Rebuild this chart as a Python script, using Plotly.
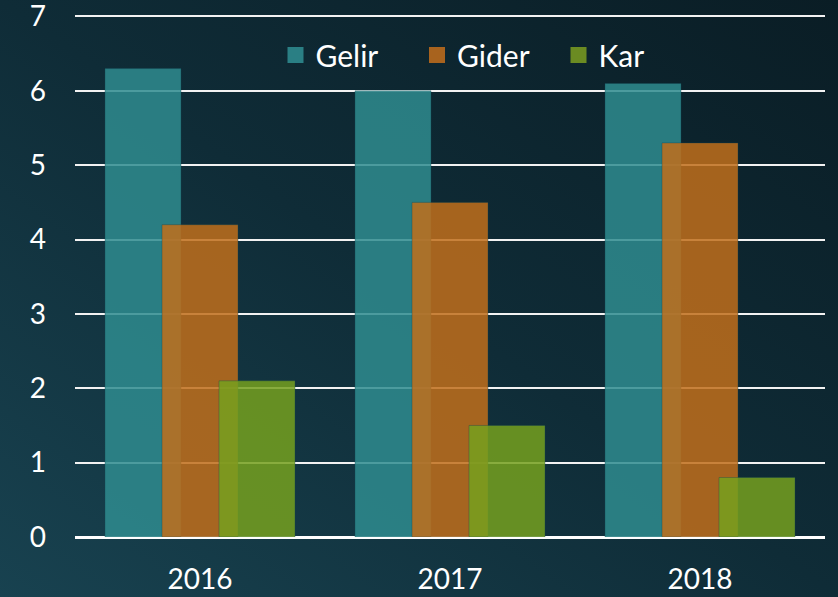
import plotly.graph_objects as go
import base64

years = ["2016", "2017", "2018"]
gelir = [6.3, 6.0, 6.1]
gider = [4.2, 4.5, 5.3]
kar = [2.1, 1.5, 0.8]
series_names = ["Gelir", "Gider", "Kar"]
y_ticks = [0, 1, 2, 3, 4, 5, 6, 7]

colors = ["rgba(47,140,143,0.85)", "rgba(193,111,27,0.85)", "rgba(118,160,30,0.85)"]
solid = ["#2a7f84", "#a8631e", "#6b8b22"]
offsets = [-0.38, -0.152, 0.076]
bar_w = 0.304
xpos = list(range(len(years)))

fig = go.Figure()
for name, vals, col, off in zip(series_names, [gelir, gider, kar], colors, offsets):
    fig.add_trace(go.Bar(
        x=xpos, y=vals, name=name, width=bar_w, offset=off, showlegend=False,
        marker=dict(color=col, line=dict(color="rgba(20,70,80,0.35)", width=1)),
    ))
for name, col in zip(series_names, solid):
    fig.add_trace(go.Scatter(
        x=[None], y=[None], mode="markers", name=name,
        marker=dict(symbol="square", size=18, color=col),
    ))

svg = ('<svg xmlns="http://www.w3.org/2000/svg" width="838" height="597">'
       '<defs><linearGradient id="g" x1="0" y1="1" x2="1" y2="0">'
       '<stop offset="0" stop-color="#184250"/>'
       '<stop offset="0.5" stop-color="#0f2c37"/>'
       '<stop offset="1" stop-color="#0a1d25"/>'
       '</linearGradient></defs>'
       '<rect width="838" height="597" fill="url(#g)"/></svg>')
uri = "data:image/svg+xml;base64," + base64.b64encode(svg.encode()).decode()

T, B, L, R = 15, 60, 75, 13
PH = 597 - T - B
PW = 838 - L - R
font = "Lato, 'Open Sans', sans-serif"
fig.update_layout(
    width=838, height=597,
    margin=dict(l=L, r=R, t=T, b=B, autoexpand=False),
    paper_bgcolor="#0f2c37",
    plot_bgcolor="rgba(0,0,0,0)",
    barmode="overlay",
    font=dict(family=font, color="white", size=28),
    images=[dict(source=uri, xref="paper", yref="paper", x=-L/PW, y=1+T/PH,
                 sizex=838/PW, sizey=597/PH, xanchor="left", yanchor="top",
                 sizing="stretch", layer="below")],
    legend=dict(orientation="h", x=(275.5-L)/PW, xanchor="left", y=(537-55)/PH, yanchor="middle",
                font=dict(size=30, color="white"), bgcolor="rgba(0,0,0,0)",
                itemwidth=30, tracegroupgap=0, entrywidth=96.5, entrywidthmode="pixels"),
    showlegend=True,
)
fig.update_xaxes(
    tickmode="array", tickvals=xpos, ticktext=years, range=[-0.5, 2.5],
    showgrid=False, zeroline=False, showline=False, ticks="", automargin=False,
    ticklabelstandoff=23, tickfont=dict(size=28, color="white"),
)
fig.update_yaxes(
    range=[0, 7.02], tickvals=y_ticks, showgrid=True, gridcolor="#f2f2f2", gridwidth=2,
    zeroline=True, zerolinecolor="white", zerolinewidth=3, showline=False, ticks="",
    automargin=False, ticklabelstandoff=28, ticklabeloverflow="allow",
    tickfont=dict(size=28, color="white"),
)
fig.write_html("out.html", config={"displayModeBar": False},
               post_script="document.body.style.margin='0';document.body.style.overflow='hidden';")
